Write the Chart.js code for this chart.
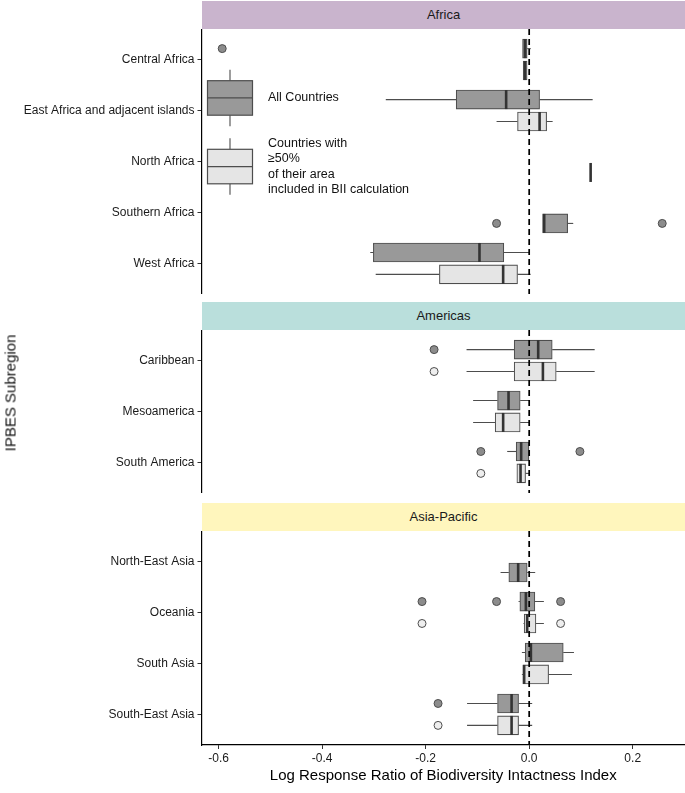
<!DOCTYPE html>
<html>
<head>
<meta charset="utf-8">
<script src="https://cdn.jsdelivr.net/npm/chart.js@4.4.1/dist/chart.umd.min.js"></script>
<style>
  body { margin: 0; background: #fff; font-family: "Liberation Sans", Arial, sans-serif; }
  #wrap { position: relative; width: 685px; height: 793px; overflow: hidden; }
  #wrap canvas { position: absolute; left: 0; }
  .strip { position: absolute; left: 202px; width: 483px; height: 28px; line-height: 28px;
           text-align: center; font-size: 13px; color: #1a1a1a; }
  .ytitle { position: absolute; left: 10px; top: 393px; font-size: 15px; color: #111;
            transform: translate(-50%, -50%) rotate(-90deg); white-space: nowrap; }
  .legtext { position: absolute; left: 268px; font-size: 12.5px; color: #111; line-height: 15.4px; }
</style>
</head>
<body>
<div id="wrap">
  <div class="strip" style="top:1px;background:#c9b4cd;">Africa</div>
  <canvas id="africa" width="685" height="265" style="top:29px"></canvas>
  <div class="strip" style="top:302px;background:#badfdc;">Americas</div>
  <canvas id="americas" width="685" height="163" style="top:330px"></canvas>
  <div class="strip" style="top:503px;background:#fff6bd;">Asia-Pacific</div>
  <canvas id="asia" width="685" height="262" style="top:531px"></canvas>
  <div class="ytitle">IPBES Subregion</div>
  <div class="legtext" style="top:90px;">All Countries</div>
  <div class="legtext" style="top:136px;">Countries with<br>≥50%<br>of their area<br>included in BII calculation</div>
</div>
<script>
// box stats are [lower whisker, q1, median, q3, upper whisker]; null = no box
const africaRegions = ['Central Africa', 'East Africa and adjacent islands', 'North Africa', 'Southern Africa', 'West Africa'];
const africaAll = [
  [-0.0128, -0.0128, -0.008, -0.0039, 0.003],
  [-0.277, -0.141, -0.0445, 0.0201, 0.1226],
  [0.1187, 0.1187, 0.1187, 0.1187, 0.1187],
  [0.0259, 0.0259, 0.029, 0.0743, 0.0851],
  [-0.307, -0.301, -0.096, -0.049, 0.0014]
];
const africaHalf = [
  [-0.0116, -0.0116, -0.008, -0.004, -0.004],
  [-0.063, -0.0225, 0.0201, 0.0337, 0.0453],
  null,
  null,
  [-0.2965, -0.1734, -0.0503, -0.0225, 0.0027]
];
const africaAllOut = [[-0.593], [], [], [-0.063, 0.257], []];
const africaHalfOut = [[], [], [], [], []];

const americasRegions = ['Caribbean', 'Mesoamerica', 'South America'];
const americasAll = [
  [-0.121, -0.029, 0.0174, 0.0445, 0.1265],
  [-0.1083, -0.0611, -0.0399, -0.0174, 0.0014],
  [-0.0425, -0.0251, -0.0155, -0.0006, -0.0006]
];
const americasHalf = [
  [-0.121, -0.029, 0.0265, 0.0522, 0.1265],
  [-0.1083, -0.0657, -0.0503, -0.0174, 0.0014],
  [-0.0238, -0.0238, -0.0167, -0.007, 0.0014]
];
const americasAllOut = [[-0.1837], [], [-0.0934, 0.098]];
const americasHalfOut = [[-0.1837], [], [-0.0934]];

const asiaRegions = ['North-East Asia', 'Oceania', 'South Asia', 'South-East Asia'];
const asiaAll = [
  [-0.0553, -0.0393, -0.0213, -0.0039, 0.0116],
  [-0.0205, -0.018, -0.0064, 0.011, 0.0284],
  [-0.0141, -0.0077, 0.0033, 0.0658, 0.0865],
  [-0.12, -0.0611, -0.034, -0.0205, 0.0058]
];
const asiaHalf = [
  null,
  [-0.011, -0.0097, -0.0039, 0.013, 0.0284],
  [-0.0141, -0.0122, -0.0097, 0.0375, 0.0826],
  [-0.12, -0.0611, -0.034, -0.0205, 0.0058]
];
const asiaAllOut = [[], [-0.207, -0.063, 0.0607], [], [-0.176]];
const asiaHalfOut = [[], [-0.207, 0.0607], [], [-0.176]];

const xTicks = [-0.6, -0.4, -0.2, 0.0, 0.2];
const X_MIN = -0.633, X_MAX = 0.301;
const DODGE = 0.215;
const DARK = '#999999', LIGHT = '#e5e5e5', EDGE = '#4d4d4d';

// dodge like ggplot: two boxes side by side, a lone box takes the second slot
function slot(i, other, first) {
  if (other === null) return i + 1 + DODGE;
  return i + 1 + (first ? -DODGE : DODGE);
}

const boxExtras = {
  id: 'boxExtras',
  afterDatasetsDraw(chart) {
    const { ctx, chartArea, scales: { x } } = chart;
    ctx.save();
    chart.data.datasets.forEach((ds, di) => {
      if (!ds.stats) return;
      chart.getDatasetMeta(di).data.forEach((bar, j) => {
        const [lo, q1, med, q3, hi] = ds.stats[j];
        const yc = bar.y, h = bar.height;
        ctx.strokeStyle = EDGE;
        ctx.lineWidth = 1.1;
        ctx.beginPath();
        ctx.moveTo(x.getPixelForValue(lo), yc);
        ctx.lineTo(x.getPixelForValue(q1), yc);
        ctx.moveTo(x.getPixelForValue(q3), yc);
        ctx.lineTo(x.getPixelForValue(hi), yc);
        ctx.stroke();
        const mx = x.getPixelForValue(med);
        ctx.strokeStyle = '#333';
        ctx.lineWidth = 2.6;
        ctx.beginPath();
        ctx.moveTo(mx, yc - h / 2);
        ctx.lineTo(mx, yc + h / 2);
        ctx.stroke();
      });
    });
    // dashed reference line at zero
    const zx = x.getPixelForValue(0);
    ctx.setLineDash([6, 4]);
    ctx.lineWidth = 1.7;
    ctx.strokeStyle = '#000';
    ctx.beginPath();
    ctx.moveTo(zx, chartArea.top);
    ctx.lineTo(zx, chartArea.bottom);
    ctx.stroke();
    ctx.restore();
  }
};

// legend glyphs inside the Africa panel
const legendGlyphs = {
  id: 'legendGlyphs',
  afterDraw(chart) {
    const ctx = chart.ctx;
    ctx.save();
    [[DARK, 51.7], [LIGHT, 120.3]].forEach(([fill, top]) => {
      const left = 207.5, w = 45, h = 34.5, cx = left + w / 2;
      ctx.strokeStyle = EDGE;
      ctx.lineWidth = 1.1;
      ctx.beginPath();
      ctx.moveTo(cx, top - 11); ctx.lineTo(cx, top);
      ctx.moveTo(cx, top + h); ctx.lineTo(cx, top + h + 11);
      ctx.stroke();
      ctx.fillStyle = fill;
      ctx.fillRect(left, top, w, h);
      ctx.lineWidth = 1.2;
      ctx.strokeRect(left, top, w, h);
      ctx.beginPath();
      ctx.moveTo(left, top + h / 2); ctx.lineTo(left + w, top + h / 2);
      ctx.stroke();
    });
    ctx.restore();
  }
};

function makePanel(id, regions, allStats, halfStats, allOut, halfOut, showX, extra) {
  const allBars = [], allKeep = [], halfBars = [], halfKeep = [];
  const allPts = [], halfPts = [];
  regions.forEach((r, i) => {
    if (allStats[i]) {
      const y = slot(i, halfStats[i], true);
      allBars.push({ x: [allStats[i][1], allStats[i][3]], y: y });
      allKeep.push(allStats[i]);
      allOut[i].forEach(v => allPts.push({ x: v, y: y }));
    }
    if (halfStats[i]) {
      const y = slot(i, allStats[i], false);
      halfBars.push({ x: [halfStats[i][1], halfStats[i][3]], y: y });
      halfKeep.push(halfStats[i]);
      halfOut[i].forEach(v => halfPts.push({ x: v, y: y }));
    }
  });

  const barStyle = { borderColor: EDGE, borderWidth: 1.1, borderSkipped: false, barThickness: 19, grouped: false };
  const ptStyle = { pointRadius: 4, pointBorderColor: EDGE, pointBorderWidth: 1, pointHoverRadius: 4 };
  const font = { size: 12, family: '"Liberation Sans", Arial' };

  return new Chart(document.getElementById(id), {
    type: 'bar',
    data: {
      datasets: [
        Object.assign({ label: 'All Countries', data: allBars, stats: allKeep, backgroundColor: DARK }, barStyle),
        Object.assign({ label: 'Countries with ≥50%', data: halfBars, stats: halfKeep, backgroundColor: LIGHT }, barStyle),
        Object.assign({ type: 'scatter', data: allPts, pointBackgroundColor: '#8c8c8c' }, ptStyle),
        Object.assign({ type: 'scatter', data: halfPts, pointBackgroundColor: '#eeeeee' }, ptStyle)
      ]
    },
    options: {
      indexAxis: 'y',
      responsive: false,
      devicePixelRatio: 1,
      animation: false,
      layout: { padding: 0, autoPadding: false },
      plugins: { legend: { display: false }, tooltip: { enabled: false } },
      scales: {
        x: {
          type: 'linear', min: X_MIN, max: X_MAX, display: showX, offset: false,
          afterBuildTicks: s => { s.ticks = xTicks.map(v => ({ value: v })); },
          afterFit: s => {
            s.height = showX ? 48 : 0;
            s.paddingLeft = 0; s.paddingRight = 0;
          },
          grid: { drawOnChartArea: false, drawTicks: true, tickLength: 4, color: '#333', offset: false },
          border: { display: true, color: '#000', width: 1.2 },
          ticks: { padding: 2, color: '#1a1a1a', font: font, callback: v => v.toFixed(1), maxRotation: 0 },
          title: { display: true, text: 'Log Response Ratio of Biodiversity Intactness Index',
                   color: '#000', font: { size: 15, family: '"Liberation Sans", Arial' },
                   padding: { top: 0, bottom: 8 } }
        },
        y: {
          type: 'linear', reverse: true, min: 0.4, max: regions.length + 0.6, offset: false,
          afterBuildTicks: s => { s.ticks = regions.map((r, i) => ({ value: i + 1 })); },
          afterFit: s => {
            s.width = 201.5;
            s.paddingTop = 0; s.paddingBottom = 0;
          },
          grid: { drawOnChartArea: false, drawTicks: true, tickLength: 4, color: '#333', offset: false },
          border: { display: true, color: '#000', width: 1.2 },
          ticks: { padding: 3, color: '#1a1a1a', font: font, callback: v => regions[Math.round(v) - 1] }
        }
      }
    },
    plugins: extra ? [boxExtras, extra] : [boxExtras]
  });
}

makePanel('africa', africaRegions, africaAll, africaHalf, africaAllOut, africaHalfOut, false, legendGlyphs);
makePanel('americas', americasRegions, americasAll, americasHalf, americasAllOut, americasHalfOut, false);
makePanel('asia', asiaRegions, asiaAll, asiaHalf, asiaAllOut, asiaHalfOut, true);
</script>
</body>
</html>
